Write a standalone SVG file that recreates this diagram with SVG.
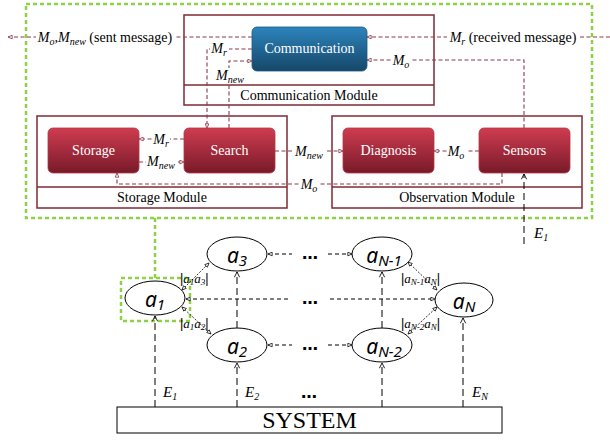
<svg xmlns="http://www.w3.org/2000/svg" width="610" height="440" viewBox="0 0 610 440">
<style>
.mod{fill:none;stroke:#7f2a35;stroke-width:1.5}
.modlbl{font-family:"Liberation Serif",serif;font-size:14px;fill:#000;text-anchor:middle}
.ntxt{font-family:"Liberation Serif",serif;font-size:14px;fill:#fff;text-anchor:middle}
.rn{fill:url(#gr);stroke:#b53545;stroke-width:0.8}
.bn{fill:url(#gb);stroke:#1d5a80;stroke-width:0.8}
.rc{fill:none;stroke:#8b3a4a;stroke-width:1.1;stroke-dasharray:4,2.5}
.ml{font-family:"Liberation Serif",serif;font-size:14px;font-style:italic;fill:#000;text-anchor:middle}
.bg{fill:#fff;stroke:none}
.up{font-style:normal}
.green{fill:none;stroke:#8dd145;stroke-width:2.5;stroke-dasharray:4,3}
.ag{fill:#fff;stroke:#000;stroke-width:1}
.al{font-family:"Noto Sans",sans-serif;font-size:21px;font-style:italic;fill:#000;text-anchor:middle}
.bk{fill:none;stroke:#000;stroke-width:1;stroke-dasharray:7,4}
.hz{fill:none;stroke:#000;stroke-width:1;stroke-dasharray:4,3}
.dg{fill:none;stroke:#000;stroke-width:0.8;stroke-dasharray:2,1.5}
.dl{font-family:"Liberation Serif",serif;font-size:13px;font-style:italic;fill:#000}
.bar{font-style:normal;font-weight:bold;font-size:15px}
.dots{font-family:"DejaVu Sans",sans-serif;font-size:16px;font-weight:bold;fill:#000;text-anchor:middle}
.el{font-family:"Liberation Serif",serif;font-size:15px;font-style:italic;fill:#000}
</style>
<defs>
<linearGradient id="gr" x1="0" y1="0" x2="0" y2="1">
<stop offset="0" stop-color="#cf3c50"/><stop offset="1" stop-color="#781a29"/>
</linearGradient>
<linearGradient id="gb" x1="0" y1="0" x2="0" y2="1">
<stop offset="0" stop-color="#2c84bd"/><stop offset="1" stop-color="#164768"/>
</linearGradient>
<marker id="ar" viewBox="0 0 6 6" refX="5.5" refY="3" markerWidth="5" markerHeight="5" markerUnits="userSpaceOnUse" orient="auto-start-reverse">
<path d="M0.5,0.8 L5.5,3 L0.5,5.2 z" fill="#fff" stroke="#8b3a4a" stroke-width="1"/>
</marker>
<marker id="ak" viewBox="0 0 6 6" refX="5.5" refY="3" markerWidth="5" markerHeight="5" markerUnits="userSpaceOnUse" orient="auto-start-reverse">
<path d="M0.5,0.8 L5.5,3 L0.5,5.2 z" fill="#fff" stroke="#000" stroke-width="0.9"/>
</marker>
<marker id="ch" viewBox="0 0 8 8" refX="7" refY="4" markerWidth="7" markerHeight="7" markerUnits="userSpaceOnUse" orient="auto">
<path d="M1,1 L7,4 L1,7" fill="none" stroke="#000" stroke-width="1"/>
</marker>
</defs>

<rect x="26" y="4" width="566" height="214" class="green"/>
<path d="M155,218 V278" class="green"/>
<rect x="121" y="278" width="69" height="43" class="green"/>

<g id="communication-module">
<rect x="184" y="15" width="250" height="90" class="mod"/>
<line x1="184" y1="85" x2="434" y2="85" class="mod"/>
<text x="309" y="100" class="modlbl">Communication Module</text>
</g>
<g id="storage-module">
<rect x="37" y="116" width="250" height="92" class="mod"/>
<line x1="37" y1="187" x2="287" y2="187" class="mod"/>
<text x="162" y="202" class="modlbl">Storage Module</text>
</g>
<g id="observation-module">
<rect x="332" y="116" width="250" height="92" class="mod"/>
<line x1="332" y1="187" x2="582" y2="187" class="mod"/>
<text x="457" y="202" class="modlbl">Observation Module</text>
</g>

<g id="communication">
<rect x="252" y="27" width="115" height="44" rx="5" class="bn"/>
<text x="309.5" y="53" class="ntxt">Communication</text>
</g>
<g id="storage">
<rect x="48" y="128" width="91" height="45" rx="5" class="rn"/>
<text x="93.5" y="155" class="ntxt">Storage</text>
</g>
<g id="search">
<rect x="184" y="128" width="91" height="45" rx="5" class="rn"/>
<text x="229.5" y="155" class="ntxt">Search</text>
</g>
<g id="diagnosis">
<rect x="343" y="128" width="91" height="45" rx="5" class="rn"/>
<text x="388.5" y="155" class="ntxt">Diagnosis</text>
</g>
<g id="sensors">
<rect x="479" y="128" width="91" height="45" rx="5" class="rn"/>
<text x="524.5" y="155" class="ntxt">Sensors</text>
</g>

<g id="agent-a1"><ellipse cx="155" cy="298" rx="30" ry="17" class="ag"/><text x="155" y="307" class="al">a<tspan font-size="15" dy="3">1</tspan></text></g>
<g id="agent-a3"><ellipse cx="237" cy="254" rx="30" ry="17" class="ag"/><text x="237" y="263" class="al">a<tspan font-size="15" dy="3">3</tspan></text></g>
<g id="agent-a2"><ellipse cx="237" cy="345" rx="30" ry="17" class="ag"/><text x="237" y="354" class="al">a<tspan font-size="15" dy="3">2</tspan></text></g>
<g id="agent-aN-1"><ellipse cx="382" cy="254" rx="30" ry="17" class="ag"/><text x="384" y="263" class="al">a<tspan font-size="15" dy="3">N-1</tspan></text></g>
<g id="agent-aN-2"><ellipse cx="382" cy="345" rx="30" ry="17" class="ag"/><text x="384" y="354" class="al">a<tspan font-size="15" dy="3">N-2</tspan></text></g>
<g id="agent-aN"><ellipse cx="464" cy="300" rx="29" ry="17" class="ag"/><text x="464" y="309" class="al">a<tspan font-size="15" dy="3">N</tspan></text></g>

<g id="system">
<rect x="117" y="407" width="385" height="26" fill="#fff" stroke="#000" stroke-width="1"/>
<text x="309.5" y="428" font-family="Liberation Serif, serif" font-size="24" text-anchor="middle">SYSTEM</text>
</g>

<g id="connectors">
<path d="M252,37 H8" class="rc" marker-end="url(#ar)"/>
<path d="M610,37 H367" class="rc" marker-end="url(#ar)"/>
<path d="M524,128 V60 H367" class="rc" marker-end="url(#ar)"/>
<path d="M252,49 H207 V128" class="rc" marker-end="url(#ar)"/>
<path d="M229,128 V61 H252" class="rc" marker-end="url(#ar)"/>
<path d="M184,139 H139" class="rc" marker-end="url(#ar)"/>
<path d="M139,162 H184" class="rc" marker-end="url(#ar)"/>
<path d="M275,151 H343" class="rc" marker-end="url(#ar)"/>
<path d="M479,151 H434" class="rc" marker-end="url(#ar)"/>
<path d="M502,173 V184 H117 V173" class="rc" marker-end="url(#ar)"/>

<rect x="36" y="29" width="138" height="17" class="bg"/>
<rect x="447" y="29" width="133" height="17" class="bg"/>
<rect x="392" y="52" width="19" height="16" class="bg"/>
<rect x="210" y="42" width="19" height="14" class="bg"/>
<rect x="216" y="68" width="29" height="16" class="bg"/>
<rect x="152" y="131" width="18" height="15" class="bg"/>
<rect x="146" y="155" width="31" height="15" class="bg"/>
<rect x="294" y="144" width="31" height="15" class="bg"/>
<rect x="447" y="144" width="19" height="15" class="bg"/>
<rect x="300" y="177" width="19" height="15" class="bg"/>

<text x="105" y="42" class="ml">M<tspan font-size="10" dy="3">o</tspan><tspan dy="-3">,M</tspan><tspan font-size="10" dy="3">new</tspan><tspan class="up" dy="-3"> (sent message)</tspan></text>
<text x="513" y="42" class="ml">M<tspan font-size="10" dy="3">r</tspan><tspan class="up" dy="-3"> (received message)</tspan></text>
<text x="401" y="65" class="ml">M<tspan font-size="10" dy="3">o</tspan></text>
<text x="219" y="53" class="ml">M<tspan font-size="10" dy="3">r</tspan></text>
<text x="230" y="80" class="ml">M<tspan font-size="10" dy="3">new</tspan></text>
<text x="161" y="144" class="ml">M<tspan font-size="10" dy="3">r</tspan></text>
<text x="161" y="166" class="ml">M<tspan font-size="10" dy="3">new</tspan></text>
<text x="309" y="156" class="ml">M<tspan font-size="10" dy="3">new</tspan></text>
<text x="456" y="156" class="ml">M<tspan font-size="10" dy="3">o</tspan></text>
<text x="309" y="189" class="ml">M<tspan font-size="10" dy="3">o</tspan></text>

<path d="M524,244 V174" class="bk" marker-end="url(#ch)"/>
<text x="534" y="238" class="el">E<tspan font-size="10" dy="3">1</tspan></text>

<path d="M155,407 V316" class="bk" marker-end="url(#ch)"/>
<path d="M237,407 V363" class="bk" marker-end="url(#ch)"/>
<path d="M382,407 V363" class="bk" marker-end="url(#ch)"/>
<path d="M463,407 V318" class="bk" marker-end="url(#ch)"/>
<path d="M237,328 V272" class="bk" marker-end="url(#ch)"/>
<path d="M382,328 V272" class="bk" marker-end="url(#ch)"/>
<text x="163" y="397" class="el">E<tspan font-size="10" dy="3">1</tspan></text>
<text x="245" y="397" class="el">E<tspan font-size="10" dy="3">2</tspan></text>
<text x="472" y="397" class="el">E<tspan font-size="10" dy="3">N</tspan></text>
<text x="309" y="398" class="dots">…</text>

<path d="M268,254 H292" class="hz" marker-start="url(#ak)"/>
<path d="M328,254 H352" class="hz" marker-end="url(#ak)"/>
<text x="310" y="259" class="dots">…</text>
<path d="M186,299 H290" class="hz" marker-start="url(#ak)"/>
<path d="M330,299 H435" class="hz" marker-end="url(#ak)"/>
<text x="310" y="304" class="dots">…</text>
<path d="M268,345 H292" class="hz" marker-start="url(#ak)"/>
<path d="M328,345 H352" class="hz" marker-end="url(#ak)"/>
<text x="310" y="350" class="dots">…</text>

<path d="M182,290 L209,263" class="dg" marker-start="url(#ak)" marker-end="url(#ak)"/>
<path d="M182,307 L211,334" class="dg" marker-start="url(#ak)" marker-end="url(#ak)"/>
<path d="M408,262 L437,290" class="dg" marker-start="url(#ak)" marker-end="url(#ak)"/>
<path d="M408,334 L437,307" class="dg" marker-start="url(#ak)" marker-end="url(#ak)"/>
<text x="180" y="283" class="dl"><tspan class="bar">|</tspan>a<tspan font-size="9" dy="2">1</tspan><tspan dy="-2">a</tspan><tspan font-size="9" dy="2">3</tspan><tspan class="bar" dy="-2">|</tspan></text>
<text x="180" y="328" class="dl"><tspan class="bar">|</tspan>a<tspan font-size="9" dy="2">1</tspan><tspan dy="-2">a</tspan><tspan font-size="9" dy="2">2</tspan><tspan class="bar" dy="-2">|</tspan></text>
<text x="401" y="283" class="dl"><tspan class="bar">|</tspan>a<tspan font-size="9" dy="2">N-1</tspan><tspan dy="-2">a</tspan><tspan font-size="9" dy="2">N</tspan><tspan class="bar" dy="-2">|</tspan></text>
<text x="401" y="328" class="dl"><tspan class="bar">|</tspan>a<tspan font-size="9" dy="2">N-2</tspan><tspan dy="-2">a</tspan><tspan font-size="9" dy="2">N</tspan><tspan class="bar" dy="-2">|</tspan></text>
</g>
</svg>
